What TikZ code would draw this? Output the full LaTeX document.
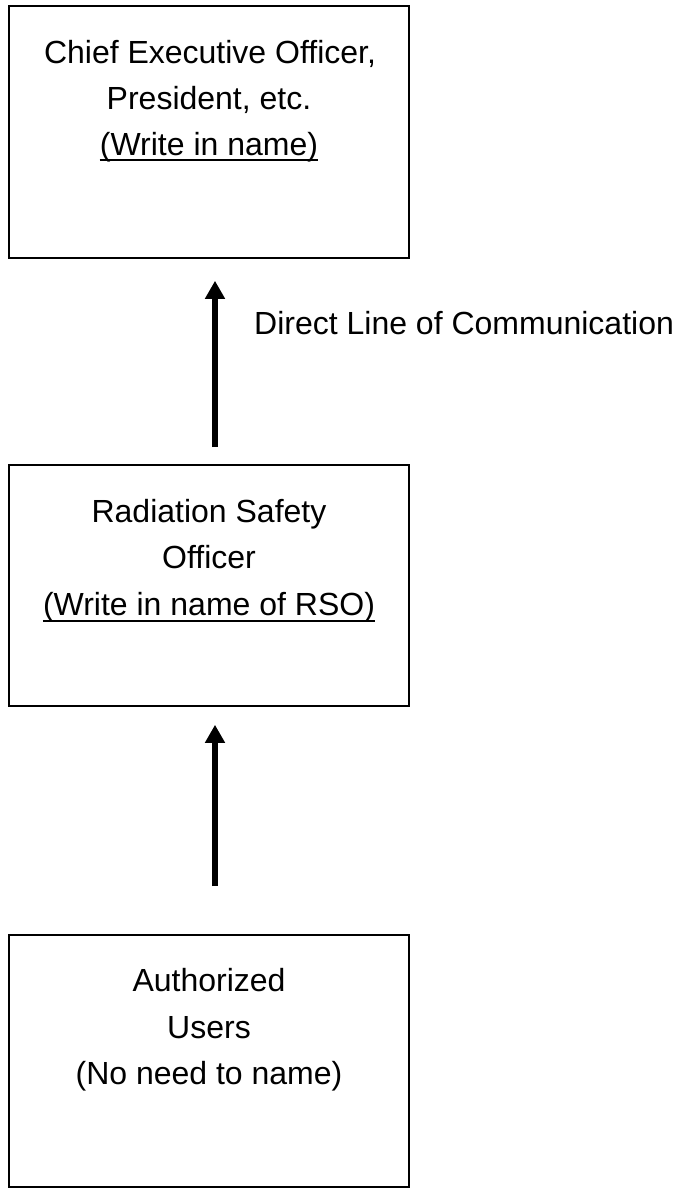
\documentclass[tikz,border=0pt]{standalone}
\usepackage{fontspec}
\setmainfont{Liberation Sans}
\usetikzlibrary{arrows.meta}
\begin{document}
\begin{tikzpicture}[x=1pt,y=-1pt,
  box/.style={draw=black,line width=1.6pt,minimum width=400pt,inner sep=0pt,rectangle},
  lbl/.style={anchor=base,inner sep=0pt,font=\fontsize{32}{40}\selectfont},
  uln/.style={line width=2pt},
  arr/.style={line width=6pt,-{Triangle[length=18pt,width=19pt]}}]
\useasboundingbox (0,0) rectangle (680,1196);
\node[box,minimum height=252pt] (b1) at (209,132) {};
\node[box,minimum height=241pt] (b2) at (209,585.5) {};
\node[box,minimum height=252pt] (b3) at (209,1061) {};
% texts box 1
\node[lbl] (t1a) at (210,63.5) {Chief Executive Officer,};
\node[lbl] (t1b) at (209,109.5) {President, etc.};
\node[lbl] (t1c) at (209,155) {(Write in name)};
\draw[uln] ([yshift=-5pt]t1c.base west) -- ([yshift=-5pt]t1c.base east);
% texts box 2
\node[lbl] (t2a) at (209,522.5) {Radiation Safety};
\node[lbl] (t2b) at (209,568.5) {Officer};
\node[lbl] (t2c) at (209,615.5) {(Write in name of RSO)};
\draw[uln] ([yshift=-5pt]t2c.base west) -- ([yshift=-5pt]t2c.base east);
% texts box 3
\node[lbl] (t3a) at (209,991.5) {Authorized};
\node[lbl] (t3b) at (209,1038.5) {Users};
\node[lbl] (t3c) at (209,1084.5) {(No need to name)};
% label
\node[lbl,anchor=base west] (lab) at (254,334.5) {Direct Line of Communication};
% arrows
\draw[arr,shorten <=17pt,shorten >=22pt] ([xshift=6pt]b2.north) -- ([xshift=6pt]b1.south);
\draw[arr,shorten <=48pt,shorten >=18pt] ([xshift=6pt]b3.north) -- ([xshift=6pt]b2.south);
\end{tikzpicture}
\end{document}
